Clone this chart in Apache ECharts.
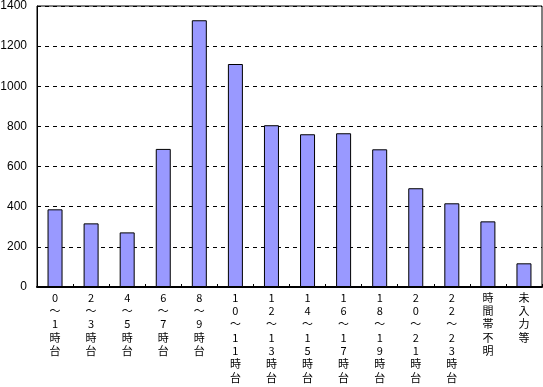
<!DOCTYPE html>
<html>
<head>
<meta charset="utf-8">
<script src="https://cdn.jsdelivr.net/npm/echarts@6/dist/echarts.min.js"></script>
<style>html,body{margin:0;padding:0;background:#fff;}#c{width:543px;height:387px;}</style>
</head>
<body>
<div id="c"></div>
<script>
const categories = ["0～1時台","2～3時台","4～5時台","6～7時台","8～9時台","10～11時台","12～13時台","14～15時台","16～17時台","18～19時台","20～21時台","22～23時台","時間帯不明","未入力等"];
const values = [387, 317, 272, 688, 1329, 1111, 806, 761, 766, 686, 492, 417, 327, 118];
const yTicks = { min: 0, max: 1400, interval: 200 };

const chart = echarts.init(document.getElementById('c'), null, { renderer: 'canvas' });
chart.setOption({
  animation: false,
  backgroundColor: '#fff',
  grid: { left: 37, right: 1, top: 6, bottom: 100, containLabel: false, outerBoundsMode: 'none', show: true, borderColor: '#000', borderWidth: 1, backgroundColor: 'transparent' },
  xAxis: {
    type: 'category',
    data: categories,
    axisLine: { lineStyle: { color: '#000', width: 2 } },
    axisTick: { show: true, inside: true, length: 3, lineStyle: { color: '#000' } },
    axisLabel: {
      interval: 0,
      color: '#000',
      fontSize: 11,
      lineHeight: 13.3,
      margin: 4,
      verticalAlign: 'top',
      fontFamily: '"Noto Sans CJK JP", sans-serif',
      formatter: function (v) { return v.split('').join('\n'); }
    }
  },
  yAxis: {
    type: 'value',
    min: yTicks.min, max: yTicks.max, interval: yTicks.interval,
    axisLine: { show: true, lineStyle: { color: '#000', width: 1 } },
    axisTick: { show: false },
    axisLabel: { color: '#000', fontSize: 12, margin: 10, fontFamily: '"Liberation Sans", sans-serif', formatter: function (v) { return String(v); } },
    splitLine: { show: true, lineStyle: { color: '#000', type: [4, 4], width: 1 } }
  },
  series: [{
    type: 'bar',
    data: values,
    barWidth: 15,
    itemStyle: { color: '#9999FF', borderColor: '#000', borderWidth: 1 }
  }]
});
</script>
</body>
</html>
